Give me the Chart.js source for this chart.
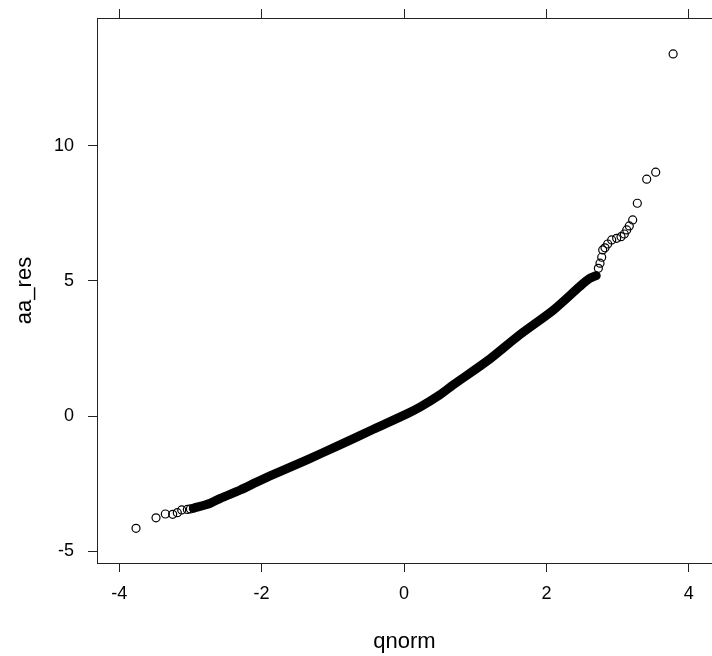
<!DOCTYPE html>
<html>
<head>
<meta charset="utf-8">
<script src="https://cdn.jsdelivr.net/npm/chart.js@4"></script>
<style>
  html, body { margin: 0; padding: 0; background: #fff; overflow: hidden; }
  canvas { display: block; }
</style>
</head>
<body>
<canvas id="qqPlot" width="712" height="656"></canvas>
<script>
// QQ plot of aa_res against normal quantiles

// dense middle of the sample (points overlap into a solid band)
const bandX = [-2.96, -2.72, -2.58, -2.30, -2.07, -1.84, -1.37, -0.90, -0.43, 0.04, 0.23, 0.51, 0.69, 1.16, 1.63, 2.10, 2.47, 2.60, 2.70];
const bandY = [-3.42, -3.23, -3.05, -2.74, -2.45, -2.17, -1.63, -1.07, -0.49, 0.08, 0.34, 0.80, 1.15, 2.02, 3.02, 3.93, 4.80, 5.08, 5.20];

// sparse lower tail
const lowX = [-3.764, -3.483, -3.352, -3.249, -3.184, -3.122, -3.043, -3.00];
const lowY = [-4.16, -3.77, -3.63, -3.64, -3.58, -3.48, -3.46, -3.44];

// sparse upper tail
const highX = [2.73, 2.753, 2.777, 2.791, 2.823, 2.861, 2.917, 2.987, 3.048, 3.094, 3.128, 3.164, 3.212, 3.277, 3.409, 3.535, 3.78];
const highY = [5.47, 5.66, 5.88, 6.15, 6.23, 6.37, 6.52, 6.58, 6.64, 6.74, 6.89, 7.04, 7.26, 7.88, 8.77, 9.03, 13.41];

const xTicks = [-4, -2, 0, 2, 4];
const yTicks = [-5, 0, 5, 10];

const toPoints = (xs, ys) => xs.map((x, i) => ({ x: x, y: ys[i] }));

const FONT = "'Liberation Sans', Arial, sans-serif";
const INK = "#000";
const FRAME = "#222";
const TICK_LEN = 9;

const tickCallback = (list) => (v) => list.includes(v) ? String(v) : "";

// keep the panel edges fixed: no extra room for end labels
const fitX = (h) => (s) => { s.height = h; s.paddingLeft = 0; s.paddingRight = 0; };
const fitY = (w) => (s) => { s.width = w; s.paddingTop = 0; s.paddingBottom = 0; };

const config = {
    type: "scatter",
    data: {
        datasets: [
            {
                label: "band",
                data: toPoints(bandX, bandY),
                showLine: true,
                borderColor: "#000",
                borderWidth: 9,
                borderCapStyle: "round",
                borderJoinStyle: "round",
                tension: 0.25,
                pointRadius: 0,
                xAxisID: "x",
                yAxisID: "y"
            },
            {
                label: "tails",
                data: toPoints(lowX, lowY).concat(toPoints(highX, highY)),
                pointStyle: "circle",
                pointRadius: 4,
                borderWidth: 1.2,
                borderColor: "#000",
                backgroundColor: "rgba(0,0,0,0)",
                xAxisID: "x",
                yAxisID: "y"
            }
        ]
    },
    options: {
        responsive: false,
        animation: false,
        // panel runs off the right edge of the canvas
        layout: { padding: 0, autoPadding: false },
        plugins: {
            legend: { display: false },
            tooltip: { enabled: false }
        },
        scales: {
            x: {
                type: "linear",
                position: "bottom",
                min: -4.312,
                max: 4.326,
                afterFit: fitX(93),
                ticks: {
                    stepSize: 2,
                    includeBounds: false,
                    maxRotation: 0,
                    callback: tickCallback(xTicks),
                    color: INK,
                    padding: 11,
                    font: { family: FONT, size: 18 }
                },
                grid: { drawOnChartArea: false, tickLength: TICK_LEN, color: FRAME },
                border: { display: true, color: FRAME, width: 1 },
                title: {
                    display: true,
                    text: "qnorm",
                    color: INK,
                    padding: { top: 0, bottom: 1 },
                    font: { family: FONT, size: 22 }
                }
            },
            xTop: {
                type: "linear",
                position: "top",
                min: -4.312,
                max: 4.326,
                afterFit: fitX(18),
                ticks: {
                    stepSize: 2,
                    includeBounds: false,
                    display: false
                },
                grid: { drawOnChartArea: false, tickLength: TICK_LEN, color: FRAME },
                border: { display: true, color: FRAME, width: 1 }
            },
            y: {
                type: "linear",
                position: "left",
                min: -5.444,
                max: 14.74,
                afterFit: fitY(97),
                ticks: {
                    stepSize: 5,
                    includeBounds: false,
                    callback: tickCallback(yTicks),
                    color: INK,
                    padding: 14,
                    font: { family: FONT, size: 18 }
                },
                grid: { drawOnChartArea: false, tickLength: TICK_LEN, color: FRAME },
                border: { display: true, color: FRAME, width: 1 },
                title: {
                    display: true,
                    text: "aa_res",
                    color: INK,
                    padding: { top: 12, bottom: 0 },
                    font: { family: FONT, size: 22 }
                }
            }
        }
    }
};

new Chart(document.getElementById("qqPlot"), config);
</script>
</body>
</html>
